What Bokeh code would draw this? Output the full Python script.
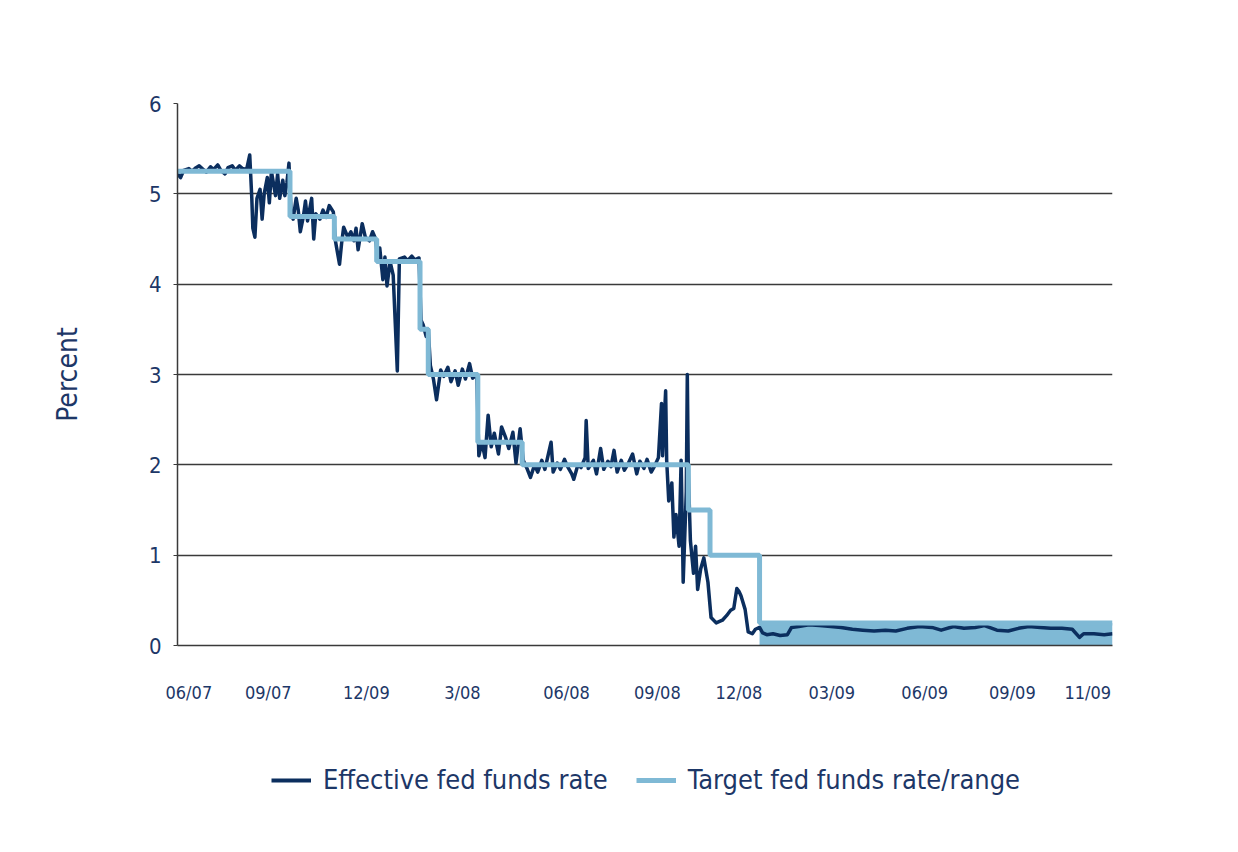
import pandas as pd
from bokeh.plotting import figure
from bokeh.layouts import column
from bokeh.models import FixedTicker, Range1d, Legend, LegendItem
from bokeh.embed import file_html
from bokeh.resources import INLINE

NAVY = "#0b2e5e"
LIGHT = "#7fb9d5"
TEXT = "#1d3767"
GRID = "#3a3a3a"
FONT = "DejaVu Sans Condensed"

# Effective fed funds rate (date, percent)
effective = [
    ("2007-06-01", 5.22), ("2007-06-04", 5.18), ("2007-06-07", 5.26), ("2007-06-12", 5.28),
    ("2007-06-15", 5.25), ("2007-06-19", 5.29), ("2007-06-22", 5.31), ("2007-06-26", 5.27),
    ("2007-06-29", 5.24), ("2007-07-03", 5.30), ("2007-07-06", 5.27), ("2007-07-10", 5.32),
    ("2007-07-13", 5.26), ("2007-07-17", 5.22), ("2007-07-20", 5.29), ("2007-07-24", 5.31),
    ("2007-07-27", 5.26), ("2007-07-31", 5.31), ("2007-08-03", 5.28), ("2007-08-07", 5.27),
    ("2007-08-10", 5.43), ("2007-08-12", 4.95), ("2007-08-13", 4.62), ("2007-08-15", 4.52),
    ("2007-08-17", 4.95), ("2007-08-20", 5.05), ("2007-08-22", 4.72), ("2007-08-24", 5.00),
    ("2007-08-27", 5.18), ("2007-08-29", 4.90), ("2007-08-31", 5.25), ("2007-09-04", 4.98),
    ("2007-09-06", 5.22), ("2007-09-08", 4.95), ("2007-09-11", 5.15), ("2007-09-13", 4.98),
    ("2007-09-15", 5.12), ("2007-09-17", 5.34), ("2007-09-19", 4.80), ("2007-09-21", 4.72),
    ("2007-09-24", 4.95), ("2007-09-26", 4.82), ("2007-09-28", 4.58), ("2007-10-01", 4.75),
    ("2007-10-03", 4.92), ("2007-10-05", 4.70), ("2007-10-09", 4.95), ("2007-10-11", 4.50),
    ("2007-10-13", 4.78), ("2007-10-17", 4.72), ("2007-10-20", 4.82), ("2007-10-23", 4.74),
    ("2007-10-26", 4.87), ("2007-10-30", 4.80), ("2007-11-01", 4.48), ("2007-11-05", 4.22),
    ("2007-11-07", 4.45), ("2007-11-09", 4.63), ("2007-11-13", 4.52), ("2007-11-16", 4.58),
    ("2007-11-19", 4.48), ("2007-11-21", 4.62), ("2007-11-23", 4.38), ("2007-11-27", 4.67),
    ("2007-11-30", 4.52), ("2007-12-04", 4.48), ("2007-12-07", 4.58), ("2007-12-10", 4.50),
    ("2007-12-12", 4.28), ("2007-12-14", 4.40), ("2007-12-17", 4.05), ("2007-12-19", 4.30),
    ("2007-12-21", 3.98), ("2007-12-24", 4.25), ("2007-12-27", 4.10), ("2007-12-31", 3.04),
    ("2008-01-02", 4.28), ("2008-01-07", 4.30), ("2008-01-10", 4.26), ("2008-01-14", 4.31),
    ("2008-01-17", 4.27), ("2008-01-21", 4.29), ("2008-01-23", 3.60), ("2008-01-25", 3.55),
    ("2008-01-28", 3.42), ("2008-01-30", 3.50), ("2008-02-01", 3.10), ("2008-02-04", 2.95),
    ("2008-02-07", 2.72), ("2008-02-11", 3.05), ("2008-02-14", 2.98), ("2008-02-18", 3.08),
    ("2008-02-21", 2.92), ("2008-02-25", 3.04), ("2008-02-28", 2.88), ("2008-03-03", 3.06),
    ("2008-03-06", 2.95), ("2008-03-10", 3.12), ("2008-03-13", 2.96), ("2008-03-17", 3.00),
    ("2008-03-19", 2.10), ("2008-03-22", 2.25), ("2008-03-25", 2.08), ("2008-03-28", 2.55),
    ("2008-03-31", 2.20), ("2008-04-03", 2.35), ("2008-04-07", 2.12), ("2008-04-10", 2.42),
    ("2008-04-14", 2.30), ("2008-04-17", 2.18), ("2008-04-21", 2.36), ("2008-04-24", 2.02),
    ("2008-04-28", 2.40), ("2008-05-01", 2.05), ("2008-05-05", 1.95), ("2008-05-08", 1.86),
    ("2008-05-12", 2.00), ("2008-05-15", 1.92), ("2008-05-19", 2.05), ("2008-05-22", 1.95),
    ("2008-05-28", 2.25), ("2008-05-30", 1.92), ("2008-06-03", 2.02), ("2008-06-06", 1.95),
    ("2008-06-10", 2.06), ("2008-06-13", 1.98), ("2008-06-17", 1.90), ("2008-06-19", 1.84),
    ("2008-06-23", 2.00), ("2008-06-26", 1.97), ("2008-06-30", 2.08), ("2008-07-01", 2.49),
    ("2008-07-03", 1.96), ("2008-07-08", 2.05), ("2008-07-11", 1.90), ("2008-07-15", 2.18),
    ("2008-07-18", 1.95), ("2008-07-22", 2.04), ("2008-07-25", 1.98), ("2008-07-28", 2.16),
    ("2008-07-31", 1.92), ("2008-08-04", 2.05), ("2008-08-07", 1.94), ("2008-08-11", 2.02),
    ("2008-08-15", 2.12), ("2008-08-19", 1.90), ("2008-08-22", 2.04), ("2008-08-26", 1.96),
    ("2008-08-29", 2.06), ("2008-09-02", 1.92), ("2008-09-05", 1.98), ("2008-09-09", 2.08),
    ("2008-09-12", 2.68), ("2008-09-13", 2.10), ("2008-09-16", 2.82), ("2008-09-17", 2.05),
    ("2008-09-19", 1.60), ("2008-09-22", 1.80), ("2008-09-24", 1.20), ("2008-09-26", 1.45),
    ("2008-09-29", 1.10), ("2008-10-01", 2.05), ("2008-10-02", 1.40), ("2008-10-03", 0.70),
    ("2008-10-06", 1.70), ("2008-10-07", 3.00), ("2008-10-08", 1.90), ("2008-10-10", 1.16),
    ("2008-10-13", 0.80), ("2008-10-15", 1.10), ("2008-10-17", 0.62), ("2008-10-20", 0.85),
    ("2008-10-23", 0.97), ("2008-10-27", 0.70), ("2008-10-30", 0.31), ("2008-11-04", 0.25),
    ("2008-11-10", 0.28), ("2008-11-14", 0.33), ("2008-11-18", 0.39), ("2008-11-21", 0.41),
    ("2008-11-24", 0.63), ("2008-11-26", 0.60), ("2008-11-28", 0.55), ("2008-12-02", 0.40),
    ("2008-12-05", 0.15), ("2008-12-09", 0.13), ("2008-12-12", 0.18), ("2008-12-16", 0.20),
    ("2008-12-19", 0.14), ("2008-12-23", 0.12), ("2008-12-29", 0.13), ("2009-01-05", 0.11),
    ("2009-01-12", 0.12), ("2009-01-16", 0.20), ("2009-01-23", 0.21), ("2009-02-02", 0.23),
    ("2009-02-12", 0.22), ("2009-02-23", 0.21), ("2009-03-05", 0.20), ("2009-03-16", 0.18),
    ("2009-03-26", 0.17), ("2009-04-06", 0.16), ("2009-04-17", 0.17), ("2009-04-27", 0.16),
    ("2009-05-08", 0.19), ("2009-05-20", 0.21), ("2009-06-01", 0.20), ("2009-06-10", 0.17),
    ("2009-06-22", 0.21), ("2009-07-02", 0.19), ("2009-07-13", 0.20), ("2009-07-22", 0.22),
    ("2009-08-03", 0.17), ("2009-08-14", 0.16), ("2009-08-24", 0.19), ("2009-09-03", 0.21),
    ("2009-09-14", 0.20), ("2009-09-24", 0.19), ("2009-10-05", 0.19), ("2009-10-15", 0.18),
    ("2009-10-22", 0.09), ("2009-10-26", 0.13), ("2009-11-05", 0.13), ("2009-11-15", 0.12),
    ("2009-11-23", 0.13),
]

# Target fed funds rate (step changes)
target_dates = ["2007-06-01", "2007-09-18", "2007-10-31", "2007-12-11", "2008-01-22",
                "2008-01-30", "2008-03-18", "2008-04-30", "2008-10-08", "2008-10-29",
                "2008-12-16", "2009-11-23"]
target_rates = [5.25, 4.75, 4.50, 4.25, 3.50, 3.00, 2.25, 2.00, 1.50, 1.00, 0.25, 0.25]

# Target range 0 - 0.25
band_dates = ["2008-12-16", "2009-11-23"]
band_low = [0.0, 0.0]
band_high = [0.25, 0.25]

tick_dates = ["2007-06-12", "2007-08-28", "2007-12-01", "2008-03-03", "2008-06-12",
              "2008-09-08", "2008-11-26", "2009-02-24", "2009-05-25", "2009-08-18",
              "2009-10-30"]
tick_labels = ["06/07", "09/07", "12/09", "3/08", "06/08", "09/08", "12/08",
               "03/09", "06/09", "09/09", "11/09"]
y_ticks = [0, 1, 2, 3, 4, 5, 6]
series_labels = ["Effective fed funds rate", "Target fed funds rate/range"]

eff_x = pd.to_datetime([d for d, _ in effective])
eff_y = [v for _, v in effective]

p = figure(x_axis_type="datetime", frame_width=935, frame_height=542,
           min_border_left=177, min_border_right=118, min_border_top=103,
           min_border_bottom=70, output_backend="svg", toolbar_location=None,
           x_range=Range1d(pd.Timestamp("2007-06-01"), pd.Timestamp("2009-11-23")),
           y_range=Range1d(0, 6))
p.outline_line_color = None
p.background_fill_color = "white"
p.border_fill_color = "white"

p.varea(x=pd.to_datetime(band_dates), y1=band_low, y2=band_high, fill_color=LIGHT)
eff = p.line(eff_x, eff_y, line_color=NAVY, line_width=3.5, line_join="round")
tgt = p.step(pd.to_datetime(target_dates), target_rates, mode="after",
             line_color=LIGHT, line_width=5)

ms = [pd.Timestamp(d).value / 1e6 for d in tick_dates]
p.xaxis.ticker = FixedTicker(ticks=ms)
p.xaxis.major_label_overrides = {m: lab for m, lab in zip(ms, tick_labels)}
p.xaxis.major_tick_out = 0
p.xaxis.major_tick_in = 0
p.xaxis.minor_tick_out = 0
p.xaxis.minor_tick_in = 0
p.xaxis.major_label_standoff = 36
p.xaxis.major_label_text_font = FONT
p.xaxis.major_label_text_font_size = "18px"
p.xaxis.major_label_text_color = TEXT
p.xaxis.axis_line_color = GRID
p.xaxis.axis_line_width = 1.5

p.yaxis.ticker = FixedTicker(ticks=y_ticks)
p.yaxis.major_tick_out = 4
p.yaxis.major_tick_in = 0
p.yaxis.minor_tick_out = 0
p.yaxis.minor_tick_in = 0
p.yaxis.major_tick_line_color = GRID
p.yaxis.major_label_standoff = 12
p.yaxis.major_label_text_font = FONT
p.yaxis.major_label_text_font_size = "22px"
p.yaxis.major_label_text_color = TEXT
p.yaxis.axis_line_color = GRID
p.yaxis.axis_line_width = 1.5
p.yaxis.axis_label = "Percent"
p.yaxis.axis_label_text_font = FONT
p.yaxis.axis_label_text_font_size = "28px"
p.yaxis.axis_label_text_font_style = "normal"
p.yaxis.axis_label_text_color = TEXT
p.yaxis.axis_label_standoff = 62

p.xgrid.visible = False
p.ygrid.ticker = FixedTicker(ticks=y_ticks)
p.ygrid.grid_line_color = GRID
p.ygrid.grid_line_width = 1.3

# Legend strip below the chart (its frame is aligned with the chart's frame)
lg = figure(width=1230, height=110, min_border=0, output_backend="svg",
            toolbar_location=None, x_range=Range1d(0, 1), y_range=Range1d(0, 1))
lg.axis.visible = False
lg.grid.visible = False
lg.outline_line_color = None
lg.border_fill_color = "white"
# swatch renderers for the legend only (kept outside the visible range)
sw_eff = lg.line([-2, -1], [-2, -1], line_color=NAVY, line_width=4)
sw_tgt = lg.line([-2, -1], [-2, -1], line_color=LIGHT, line_width=5)
legend = Legend(items=[LegendItem(label=series_labels[0], renderers=[sw_eff]),
                       LegendItem(label=series_labels[1], renderers=[sw_tgt])],
                location=(94, 30), orientation="horizontal",
                label_text_font=FONT, label_text_font_size="27px",
                label_text_color=TEXT, glyph_width=40, glyph_height=30,
                label_standoff=12, spacing=28, padding=8, margin=0,
                border_line_color=None, background_fill_alpha=0)
lg.add_layout(legend)

open("out.html", "w").write(file_html(column(p, lg, spacing=0), INLINE))
